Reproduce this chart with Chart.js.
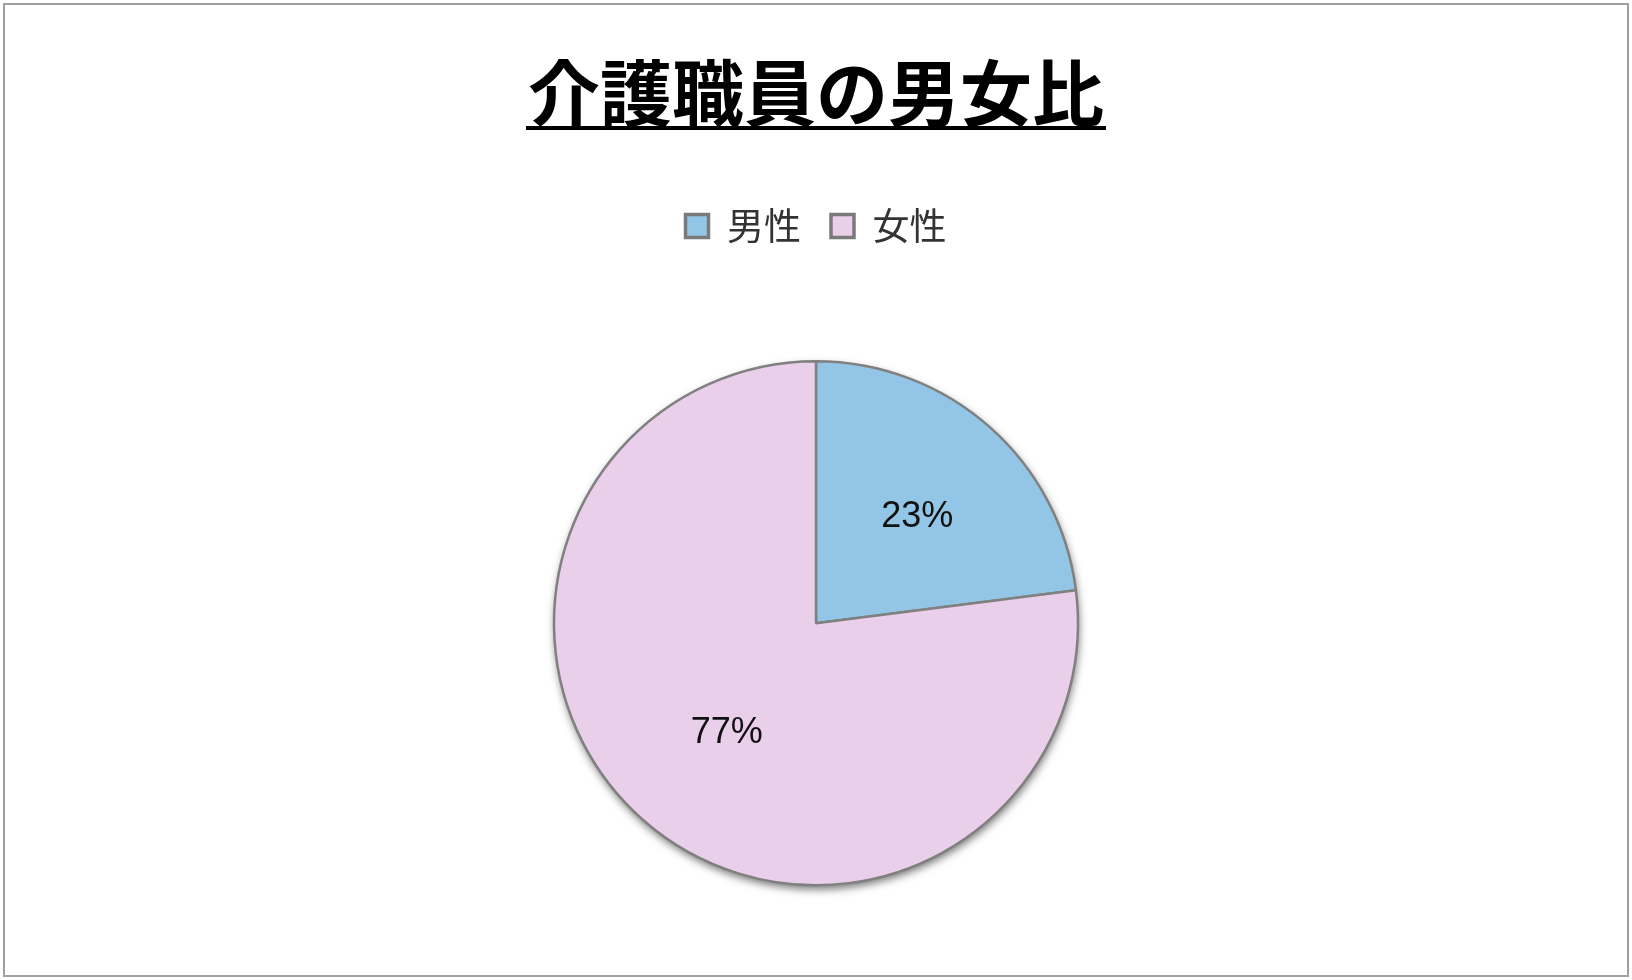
<!DOCTYPE html>
<html lang="ja">
<head>
<meta charset="utf-8">
<title>介護職員の男女比</title>
<script src="https://cdn.jsdelivr.net/npm/chart.js@4/dist/chart.umd.min.js"></script>
<style>
    html, body { margin: 0; padding: 0; width: 1632px; height: 980px; overflow: hidden; background: #fff; }
    #wrap { position: absolute; left: 0; top: 0; width: 1632px; height: 992px; }
    #frame { position: absolute; left: 3px; top: 3px; width: 1622px; height: 970px; border: 2px solid #a0a0a0; pointer-events: none; }
</style>
</head>
<body>
<div id="wrap"><canvas id="chtGender"></canvas></div>
<div id="frame"></div>
<script>
'use strict';
const chartTitle = '介護職員の男女比';
const categories = ['男性', '女性'];
const shareValues = [23, 77];
const sliceColors = ['#93c6e6', '#eacfeb'];

// 影、割合ラベル、タイトル下線
const percentLabels = {
    id: 'percentLabels',
    beforeDatasetsDraw(chart) {
        var arc = chart.getDatasetMeta(0).data[0];
        if (!arc) return;
        var ctx = chart.ctx;
        ctx.save();
        ctx.shadowColor = 'rgba(0,0,0,0.55)';
        ctx.shadowBlur = 9;
        ctx.shadowOffsetX = 1;
        ctx.shadowOffsetY = 4;
        ctx.fillStyle = '#ffffff';
        ctx.beginPath();
        ctx.arc(arc.x, arc.y, arc.outerRadius, 0, Math.PI * 2);
        ctx.fill();
        ctx.restore();
    },
    afterDatasetsDraw(chart) {
        var ctx = chart.ctx;
        var meta = chart.getDatasetMeta(0);
        var total = shareValues.reduce((a, b) => a + b, 0);
        ctx.save();
        ctx.font = '36px "Liberation Sans", Arial, sans-serif';
        ctx.fillStyle = '#111111';
        ctx.textAlign = 'center';
        ctx.textBaseline = 'middle';
        meta.data.forEach((el, i) => {
            var mid = (el.startAngle + el.endAngle) / 2;
            var r = el.outerRadius * 0.55;
            var pct = Math.round(shareValues[i] / total * 100);
            ctx.fillText(pct + '%', el.x + Math.cos(mid) * r + 6, el.y + Math.sin(mid) * r + 2);
        });
        ctx.restore();
    },
    afterDraw(chart) {
        var tb = chart.titleBlock;
        if (!tb) return;
        var ctx = chart.ctx;
        ctx.save();
        ctx.font = 'bold 72px "Noto Sans CJK JP", sans-serif';
        var w = ctx.measureText(chartTitle).width;
        var cx = (tb.left + tb.right) / 2;
        var cy = tb.top + tb.options.padding.top + 43;
        ctx.fillStyle = '#000000';
        ctx.fillRect(cx - w / 2 - 2, cy + 34, w + 4, 4);
        ctx.restore();
    }
};

new Chart(document.getElementById('chtGender'), {
    type: 'pie',
    data: {
        labels: categories,
        datasets: [{
            data: shareValues,
            backgroundColor: sliceColors,
            borderColor: '#808080',
            borderWidth: 2.5,
            radius: 262
        }]
    },
    options: {
        responsive: true,
        maintainAspectRatio: false,
        animation: false,
        layout: { padding: 0 },
        plugins: {
            title: {
                display: true,
                text: chartTitle,
                color: '#000000',
                font: { family: '"Noto Sans CJK JP", sans-serif', size: 72, weight: 'bold', lineHeight: 1.2 },
                padding: { top: 49, bottom: 42 }
            },
            legend: {
                display: true,
                position: 'top',
                labels: {
                    color: '#333333',
                    font: { family: '"Noto Sans CJK JP", sans-serif', size: 37 },
                    boxWidth: 23,
                    boxHeight: 23,
                    padding: 30,
                    generateLabels(chart) {
                        var items = Chart.overrides.pie.plugins.legend.labels.generateLabels(chart);
                        items.forEach((item) => {
                            item.lineWidth = 3.5;
                            item.strokeStyle = '#7a7a7a';
                        });
                        return items;
                    }
                }
            },
            tooltip: { enabled: false }
        }
    },
    plugins: [percentLabels]
});
</script>
</body>
</html>
